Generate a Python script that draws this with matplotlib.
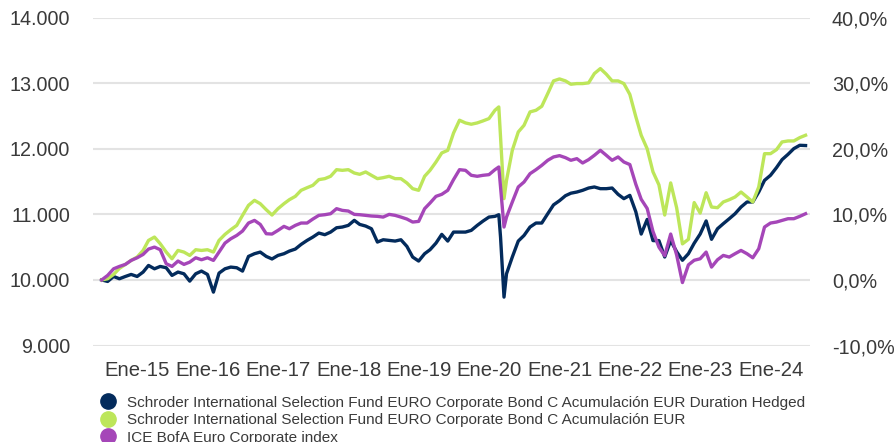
import pandas as pd
import matplotlib.pyplot as plt
from matplotlib.lines import Line2D
from matplotlib.ticker import FuncFormatter

plt.rcParams['font.family'] = ['Liberation Sans', 'DejaVu Sans']

# month-end dates Jun-2014 .. Jun-2024, plus two days around the Covid crash
months = list(pd.date_range('2014-06-30', '2024-06-30', freq='ME'))
extra = [pd.Timestamp('2020-02-20'), pd.Timestamp('2020-03-18')]
dates = sorted(months + extra)

hedged = [10000, 9977, 10053, 10018, 10053, 10084, 10053, 10120, 10221, 10170,
          10206, 10186, 10069, 10120, 10094, 9982, 10094, 10135, 10084, 9814,
          10104, 10170, 10196, 10186, 10135, 10359, 10400, 10425, 10359, 10320,
          10374, 10400, 10440, 10471, 10542, 10603, 10654, 10715, 10690, 10730,
          10796, 10807, 10832, 10909, 10847, 10822, 10781, 10578, 10613, 10603,
          10593, 10613, 10512, 10349, 10288, 10400, 10461, 10562, 10695, 10593,
          10730, 10730, 10730, 10756, 10832, 10898, 10959, 10970,
          10995, 10654, 9738, 10094,
          10349, 10593, 10679, 10807, 10868, 10868, 11010, 11145, 11209, 11285,
          11323, 11341, 11367, 11402, 11418, 11392, 11392, 11402, 11306, 11240,
          11290, 11040, 10700, 10923, 10600, 10600, 10350, 10600, 10430, 10300,
          10400, 10560, 10700, 10900, 10620, 10781, 10858, 10934, 11010, 11112,
          11189, 11189, 11341, 11519, 11596, 11713, 11835, 11916, 12003, 12054,
          12050]

unhedged = [10000, 10018, 10084, 10176, 10237, 10298, 10349, 10450, 10603, 10654,
            10552, 10425, 10323, 10450, 10425, 10374, 10461, 10450, 10461, 10425,
            10603, 10695, 10766, 10832, 10985, 11138, 11214, 11163, 11071, 10990,
            11087, 11163, 11224, 11275, 11367, 11407, 11443, 11530, 11545, 11581,
            11682, 11672, 11682, 11631, 11611, 11647, 11596, 11545, 11560, 11581,
            11545, 11545, 11479, 11392, 11367, 11581, 11672, 11799, 11937, 11977,
            12240, 12436, 12395, 12375, 12395, 12426, 12461, 12588,
            12639, 12181, 11240, 11519,
            11977, 12257, 12359, 12563, 12588, 12649, 12843, 13036, 13066, 13036,
            12985, 12995, 12995, 13006, 13148, 13224, 13138, 13036, 13036, 12995,
            12830, 12490, 12207, 12000, 11650, 11450, 10990, 11480, 11100, 10550,
            10620, 11180, 11020, 11330, 11112, 11102, 11189, 11224, 11265, 11341,
            11265, 11189, 11418, 11926, 11926, 11987, 12105, 12120, 12120, 12171,
            12207]

index = [10000, 10069, 10170, 10206, 10237, 10298, 10338, 10389, 10471, 10501,
         10461, 10247, 10206, 10288, 10237, 10272, 10338, 10308, 10338, 10298,
         10425, 10562, 10628, 10679, 10746, 10868, 10908, 10847, 10705, 10700,
         10756, 10817, 10781, 10832, 10868, 10868, 10929, 10985, 10995, 11010,
         11087, 11061, 11051, 11000, 10995, 10985, 10975, 10970, 10959, 11000,
         10985, 10959, 10929, 10883, 10893, 11087, 11173, 11275, 11306, 11367,
         11530, 11682, 11672, 11596, 11581, 11596, 11606, 11682,
         11723, 11418, 10807, 10959,
         11188, 11418, 11494, 11621, 11682, 11748, 11825, 11876, 11896, 11865,
         11825, 11850, 11784, 11835, 11901, 11977, 11901, 11825, 11876, 11799,
         11760, 11460, 11230, 11090, 10740, 10500, 10370, 10700, 10380, 9960,
         10230, 10300, 10323, 10425, 10196, 10308, 10374, 10349, 10400, 10450,
         10400, 10338, 10476, 10807, 10868, 10883, 10908, 10934, 10934, 10970,
         11010]

labels = ['Schroder International Selection Fund EURO Corporate Bond C Acumulación EUR Duration Hedged',
          'Schroder International Selection Fund EURO Corporate Bond C Acumulación EUR',
          'ICE BofA Euro Corporate index']
colors = ['#032b5c', '#bde65a', '#a546b8']
years = list(range(2015, 2025))

fig = plt.figure(figsize=(8.95, 4.42), dpi=100)
ax = fig.add_axes([93/895, 1-345.5/442, (810-93)/895, (345.5-17.7)/442])

for s, c in zip([hedged, unhedged, index], colors):
    ax.plot(dates, s, color=c, lw=2.4, solid_joinstyle='round')

ax.set_ylim(9000, 14000)
ax.set_yticks(range(9000, 14001, 1000))
ax.yaxis.set_major_formatter(FuncFormatter(lambda v, p: f"{v:,.0f}".replace(',', '.')))
ax.set_xlim(pd.Timestamp('2014-05-16'), pd.Timestamp('2024-07-23'))
ax.set_xticks([pd.Timestamp(f'{y}-01-01') for y in years])
ax.set_xticklabels([f'Ene-{y % 100:02d}' for y in years])
ax.grid(axis='y', color='#e3e3e3', lw=1.5)
ax.set_axisbelow(True)
for sp in ax.spines.values():
    sp.set_visible(False)
ax.tick_params(axis='y', length=0, labelsize=14.2, labelcolor='#3a3a3a', pad=16.5)
ax.tick_params(axis='x', length=0, labelsize=14.6, labelcolor='#3a3a3a', pad=11)

ax2 = ax.twinx()
ax2.set_ylim(-10, 40)
ax2.set_yticks(range(-10, 41, 10))
ax2.yaxis.set_major_formatter(FuncFormatter(lambda v, p: f"{v:.1f}%".replace('.', ',')))
for sp in ax2.spines.values():
    sp.set_visible(False)
ax2.tick_params(axis='y', length=0, labelsize=14.2, labelcolor='#3a3a3a', pad=15.8)

handles = [Line2D([], [], marker='o', ls='', ms=11, color=c) for c in colors]
fig.legend(handles, labels, loc='upper left', bbox_to_anchor=(100/895, 1-395.5/442),
           frameon=False, fontsize=11, handlelength=1.0, handletextpad=0.8,
           labelspacing=0.23, borderpad=0, borderaxespad=0, labelcolor='#3a3a3a')

fig.savefig('out.png', dpi=100)
